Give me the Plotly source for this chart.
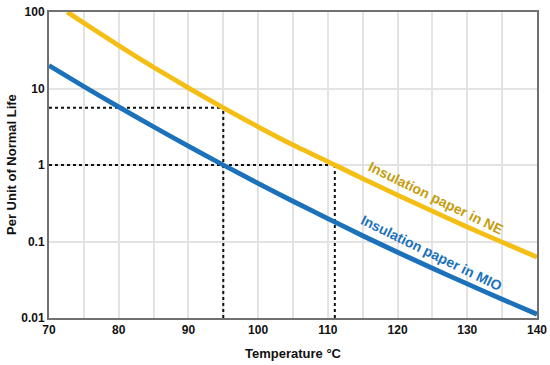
import plotly.graph_objects as go

temp_mio = [70, 75, 80, 85, 90, 95, 100, 105, 110, 115, 120, 125, 130, 135, 140]
life_mio = [20, 10.6, 5.74, 3.16, 1.76, 1.0, 0.575, 0.336, 0.199, 0.119, 0.0724, 0.0447, 0.0279, 0.0176, 0.0112]

temp_ne = [72.6, 75, 80, 85, 90, 95, 100, 105, 111, 115, 120, 125, 130, 135, 140]
life_ne = [100, 72, 36.4, 19.0, 10.2, 5.6, 3.16, 1.83, 1.0, 0.664, 0.404, 0.249, 0.155, 0.098, 0.0624]

guide_h1_x = [70, 95]; guide_h1_y = [5.6, 5.6]
guide_v1_x = [95, 95]; guide_v1_y = [0.01, 5.6]
guide_h2_x = [70, 111]; guide_h2_y = [1, 1]
guide_v2_x = [111, 111]; guide_v2_y = [0.01, 1]

x_ticks = list(range(70, 145, 5))
x_ticktext = [str(v) if v % 10 == 0 else "" for v in x_ticks]
y_ticks = [0.01, 0.1, 1, 10, 100]
y_ticktext = ["0.01", "0.1", "1", "10", "100"]

YELLOW = "#F5BE14"
BLUE = "#1B72BA"
FONT = "Liberation Sans"

fig = go.Figure()
dot = dict(color="#111111", width=2, dash="dot")
for gx, gy in [(guide_h1_x, guide_h1_y), (guide_v1_x, guide_v1_y),
               (guide_h2_x, guide_h2_y), (guide_v2_x, guide_v2_y)]:
    fig.add_trace(go.Scatter(x=gx, y=gy, mode="lines", line=dot, showlegend=False, hoverinfo="skip"))

fig.add_trace(go.Scatter(x=temp_ne, y=life_ne, mode="lines", line=dict(color=YELLOW, width=4.8, shape="spline", smoothing=0.6),
                         name="Insulation paper in NE", showlegend=False))
fig.add_trace(go.Scatter(x=temp_mio, y=life_mio, mode="lines", line=dict(color=BLUE, width=4.8, shape="spline", smoothing=0.6),
                         name="Insulation paper in MIO", showlegend=False))

fig.add_annotation(x=125.5, y=-0.43, xref="x", yref="y", text="<b>Insulation paper in NE</b>",
                   showarrow=False, textangle=26, font=dict(family=FONT, size=14, color="#C59D0C"))
fig.add_annotation(x=124.9, y=-1.15, xref="x", yref="y", text="<b>Insulation paper in MIO</b>",
                   showarrow=False, textangle=26, font=dict(family=FONT, size=14, color=BLUE))

fig.add_annotation(x=0.5, y=0, xref="paper", yref="paper", yanchor="top", yshift=-26,
                   text="<b>Temperature °C</b>", showarrow=False,
                   font=dict(family=FONT, size=13, color="#111111"))
fig.add_annotation(x=0, y=0.5, xref="paper", yref="paper", xanchor="center", xshift=-38,
                   text="<b>Per Unit of Normal Life</b>", showarrow=False, textangle=-90,
                   font=dict(family=FONT, size=13, color="#111111"))

fig.update_layout(
    width=550, height=365,
    margin=dict(l=49, r=13, t=12, b=47, autoexpand=False),
    paper_bgcolor="white", plot_bgcolor="white",
    font=dict(family=FONT, size=12, color="#111111"),
    xaxis=dict(range=[70, 140], tickvals=x_ticks, ticktext=x_ticktext, automargin=False,
               showgrid=True, gridcolor="#E3E3E3", gridwidth=1.5,
               showline=True, linecolor="#707070", linewidth=2, mirror=True,
               ticks="", tickfont=dict(family=FONT, size=12, color="#111111", weight="bold"),
               zeroline=False),
    yaxis=dict(type="log", range=[-2, 2], tickvals=y_ticks, ticktext=y_ticktext, automargin=False,
               showgrid=True, gridcolor="#E3E3E3", gridwidth=1.5,
               showline=True, linecolor="#707070", linewidth=2, mirror=True,
               ticks="", tickfont=dict(family=FONT, size=12, color="#111111", weight="bold"),
               zeroline=False),
)

fig.write_html("out.html", config={"displayModeBar": False},
               post_script="document.body.style.margin='0';document.body.style.padding='0';")
